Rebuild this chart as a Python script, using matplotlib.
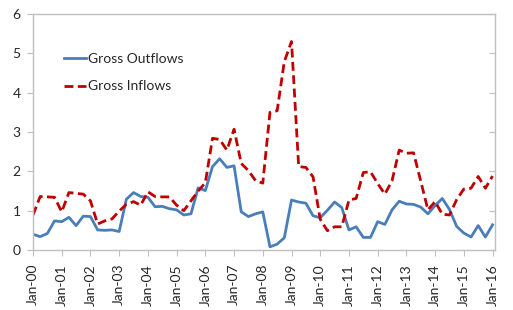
import matplotlib
matplotlib.use('Agg')
import matplotlib.pyplot as plt
import numpy as np

# Quarterly data, Q1 2000 - Q1 2016
years = [f'Jan-{y:02d}' for y in range(0, 17)]

outflows = [0.40, 0.34, 0.42, 0.74, 0.72, 0.83, 0.62, 0.86, 0.85, 0.51, 0.50, 0.51,
            0.47, 1.29, 1.46, 1.36, 1.34, 1.10, 1.11, 1.05, 1.02, 0.89, 0.92, 1.58,
            1.51, 2.12, 2.32, 2.10, 2.14, 0.97, 0.85, 0.92, 0.97, 0.08, 0.15, 0.31,
            1.27, 1.22, 1.19, 0.87, 0.82, 1.01, 1.22, 1.08, 0.51, 0.59, 0.32, 0.32,
            0.72, 0.65, 1.02, 1.24, 1.17, 1.16, 1.09, 0.92, 1.13, 1.31, 1.03, 0.60,
            0.43, 0.33, 0.62, 0.33, 0.64]
inflows = [0.89, 1.36, 1.35, 1.34, 0.97, 1.46, 1.44, 1.42, 1.25, 0.66, 0.74, 0.79,
           0.99, 1.16, 1.23, 1.14, 1.48, 1.36, 1.35, 1.35, 1.14, 1.00, 1.25, 1.50,
           1.71, 2.84, 2.81, 2.54, 3.07, 2.20, 2.02, 1.76, 1.70, 3.50, 3.54, 4.79,
           5.30, 2.12, 2.10, 1.86, 0.78, 0.49, 0.59, 0.59, 1.27, 1.31, 1.97, 1.99,
           1.69, 1.42, 1.76, 2.54, 2.46, 2.47, 1.75, 1.02, 1.23, 0.91, 0.89, 1.28,
           1.55, 1.57, 1.87, 1.57, 1.88]

plt.rcParams['font.family'] = ['Lato', 'DejaVu Sans']
txt = '#262626'
grey = '#BFBFBF'

fig = plt.figure(figsize=(5.13, 3.10), dpi=100)
ax = fig.add_axes([33 / 513, 60 / 310, 462 / 513, 236 / 310])

x = np.arange(len(outflows))
ax.plot(x, outflows, color='#4A7EBB', lw=2.0, label='Gross Outflows')
ax.plot(x, inflows, color='#C00000', lw=2.0, ls=(0, (3.2, 1.6)), label='Gross Inflows')

ax.set_xlim(0, 64.34)
ax.set_ylim(0, 6)
ax.set_xticks(np.arange(0, 65, 4))
ax.set_xticklabels(years, rotation=90)
ax.set_yticks(range(0, 7))

for s in ax.spines.values():
    s.set_color(grey)
    s.set_linewidth(1.0)
ax.tick_params(axis='both', colors=grey, labelcolor=txt, labelsize=10, length=4)
ax.tick_params(axis='y', pad=5)
ax.tick_params(axis='x', pad=6)

# secondary axis on the right (labels are clipped by the figure edge)
ax2 = ax.twinx()
ax2.set_ylim(0, 6)
ax2.set_yticks(range(0, 7))
for s in ax2.spines.values():
    s.set_visible(False)
ax2.tick_params(axis='y', direction='in', colors=grey, labelcolor=txt,
                labelsize=10, length=4, pad=15)

ax.legend(loc='upper left', bbox_to_anchor=(0.067, 0.834), frameon=False,
          fontsize=10, borderaxespad=0, borderpad=0, handlelength=1.6,
          handletextpad=0.15, labelspacing=1.1, labelcolor=txt)

fig.savefig('out.png', dpi=100)
